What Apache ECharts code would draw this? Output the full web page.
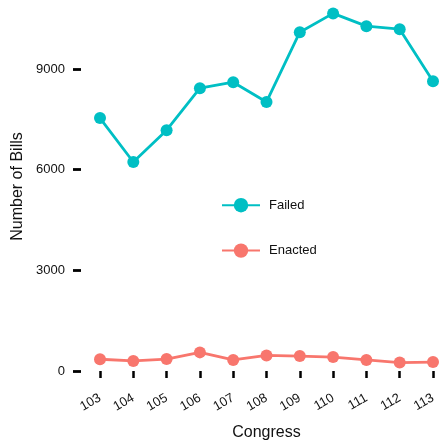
<!DOCTYPE html>
<html><head><meta charset="utf-8">
<script src="https://cdn.jsdelivr.net/npm/echarts@6/dist/echarts.min.js"></script>
<style>html,body{margin:0;padding:0;background:#fff}#c{width:441px;height:441px}</style>
</head><body><div id="c"></div>
<script>
const congress = ['103','104','105','106','107','108','109','110','111','112','113'];
const failed = [7540, 6230, 7180, 8430, 8610, 8020, 10100, 10660, 10280, 10190, 8640];
const enacted = [350, 300, 355, 555, 330, 465, 445, 415, 330, 250, 265];
const yTicks = [0, 3000, 6000, 9000];

const chart = echarts.init(document.getElementById('c'), null, {renderer: 'canvas'});
const font = 'Liberation Sans, Arial, Helvetica, sans-serif';
chart.setOption({
  animation: false,
  backgroundColor: '#fff',
  grid: {left: 100, right: 8, top: 2, bottom: 70, containLabel: false, outerBoundsMode: 'none'},
  legend: {
    orient: 'vertical', left: 221, top: 196, itemGap: 27, padding: 0,
    itemWidth: 38, itemHeight: 18,
    textStyle: {fontFamily: font, fontSize: 13, color: '#111', padding: [0, 0, 0, 4]},
    data: ['Failed', 'Enacted']
  },
  xAxis: {
    type: 'category', data: congress, boundaryGap: false, offset: 9,
    name: 'Congress', nameLocation: 'middle', nameGap: 45,
    nameTextStyle: {fontFamily: font, fontSize: 16, color: '#111'},
    axisLine: {show: false},
    axisTick: {show: true, length: 7, lineStyle: {color: '#000', width: 2.5}, alignWithLabel: true},
    axisLabel: {rotate: 30, margin: 17, fontFamily: font, fontSize: 13, color: '#111'},
    splitLine: {show: false}
  },
  yAxis: {
    type: 'value', min: 0, max: 11000, offset: 19,
    name: 'Number of Bills', nameLocation: 'middle', nameGap: 53,
    nameTextStyle: {fontFamily: font, fontSize: 16, color: '#111'},
    axisLine: {show: false},
    axisTick: {show: true, length: 8, lineStyle: {color: '#000', width: 2.8}, customValues: yTicks},
    axisLabel: {margin: 16, fontFamily: font, fontSize: 13, color: '#111', customValues: yTicks,
      formatter: v => String(v)},
    splitLine: {show: false}
  },
  series: [
    {name: 'Failed', type: 'line', data: failed, symbol: 'circle', symbolSize: 12,
     itemStyle: {color: '#00BFC4'}, lineStyle: {color: '#00BFC4', width: 2.8}},
    {name: 'Enacted', type: 'line', data: enacted, symbol: 'circle', symbolSize: 12,
     itemStyle: {color: '#F8766D'}, lineStyle: {color: '#F8766D', width: 2.8}}
  ]
}); 
chart.setOption({legend: {top: 198, itemGap: 31}});
</script></body></html>
